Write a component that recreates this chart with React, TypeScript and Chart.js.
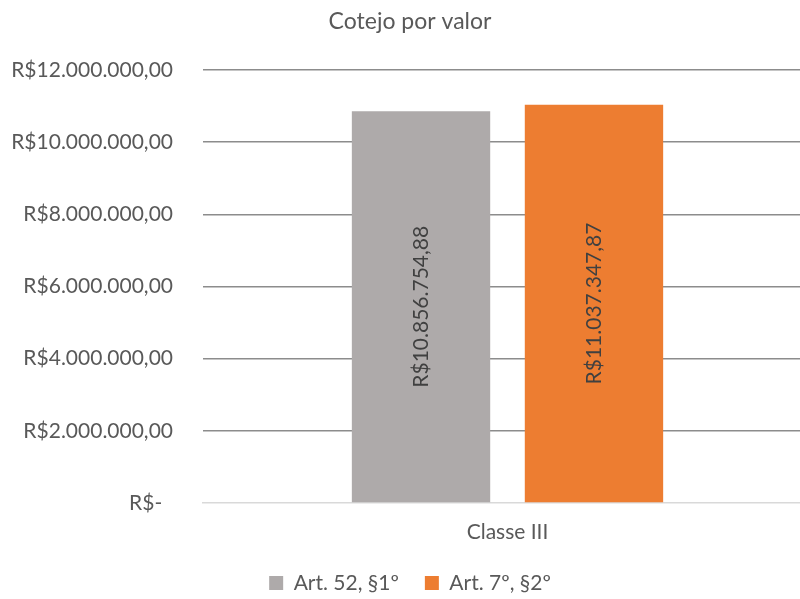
import React, { useEffect, useRef } from "react";
import { Chart, registerables } from "chart.js";

Chart.register(...registerables);

const title = "Cotejo por valor";
const categories = ["Classe III"];
const seriesNames = ["Art. 52, §1º", "Art. 7º, §2º"];
const seriesA = [10856754.88];
const seriesB = [11037347.87];
const seriesColors = ["#AEAAAA", "#ED7D31"];
const yMin = 0;
const yMax = 12000000;
const yStep = 2000000;

const FONT = "Lato, 'Open Sans', sans-serif";
const TEXT = "#595959";

function brl(v: number, decimals = 2): string {
  if (v === 0) return "R$-  ";
  const parts = v.toFixed(decimals).split(".");
  const intPart = parts[0].replace(/\B(?=(\d{3})+(?!\d))/g, ".");
  return "R$" + intPart + "," + parts[1];
}

const labelPlugin = {
  id: "verticalLabels",
  afterDatasetsDraw(chart: any) {
    const ctx = chart.ctx;
    chart.data.datasets.forEach((ds: any, di: number) => {
      const meta = chart.getDatasetMeta(di);
      meta.data.forEach((bar: any, i: number) => {
        const v = ds.data[i];
        const cx = bar.x;
        const cy = (bar.y + bar.base) / 2;
        ctx.save();
        ctx.translate(cx, cy);
        ctx.rotate(-Math.PI / 2);
        ctx.font = `21px ${FONT}`;
        ctx.fillStyle = "#404040";
        ctx.textAlign = "center";
        ctx.textBaseline = "middle";
        ctx.fillText(brl(v), 0, 0);
        ctx.restore();
      });
    });
  },
};

// The plot area in the reference runs a little past the right edge of the picture
const widenX = {
  id: "widenX",
  afterLayout(chart: any) {
    const x = chart.scales.x;
    x.right = x.right + 12;
    x.width = x.right - x.left;
    x.configure();
  },
};

export default function App() {
  const ref = useRef<HTMLCanvasElement | null>(null);
  useEffect(() => {
    if (!ref.current) return;
    const chart = new Chart(ref.current, {
      type: "bar",
      data: {
        labels: categories,
        datasets: [
          { label: seriesNames[0], data: seriesA, backgroundColor: seriesColors[0] },
          { label: seriesNames[1], data: seriesB, backgroundColor: seriesColors[1] },
        ],
      },
      options: {
        animation: false,
        responsive: false,
        maintainAspectRatio: false,
        categoryPercentage: 0.568,
        barPercentage: 0.8,
        layout: { padding: { left: 8, right: -12, top: 0, bottom: 0 } },
        plugins: {
          title: {
            display: true,
            text: title,
            color: TEXT,
            font: { family: FONT, size: 23, weight: "normal" },
            padding: { top: 8, bottom: 34.4 },
          },
          legend: {
            position: "bottom",
            maxHeight: 52.5,
            labels: {
              color: TEXT,
              font: { family: FONT, size: 21 },
              boxWidth: 14,
              boxHeight: 14,
              padding: 26,
            },
          },
          tooltip: { enabled: false },
        },
        scales: {
          x: {
            afterFit: (scale: any) => {
              scale.height = 43.5;
            },
            grid: { display: false, drawTicks: false },
            border: { color: "#D9D9D9", width: 1.5 },
            ticks: { color: TEXT, font: { family: FONT, size: 21 }, padding: 17 },
          },
          y: {
            min: yMin,
            max: yMax,
            afterFit: (scale: any) => {
              scale.width = 195;
            },
            grid: {
              drawTicks: false,
              color: (c: any) => (c.tick && c.tick.value === 0 ? "rgba(0,0,0,0)" : "#8C8C8C"),
              lineWidth: 1.5,
            },
            border: { display: false },
            ticks: {
              stepSize: yStep,
              color: TEXT,
              font: { family: FONT, size: 21 },
              padding: 30,
              callback: (v: any) => brl(Number(v)),
            },
          },
        },
      },
      plugins: [widenX, labelPlugin],
    });
    return () => chart.destroy();
  }, []);
  return (
    <div style={{ position: "fixed", left: 0, top: 0, width: 800, height: 599, background: "#fff" }}>
      <canvas ref={ref} width={800} height={599} />
    </div>
  );
}
